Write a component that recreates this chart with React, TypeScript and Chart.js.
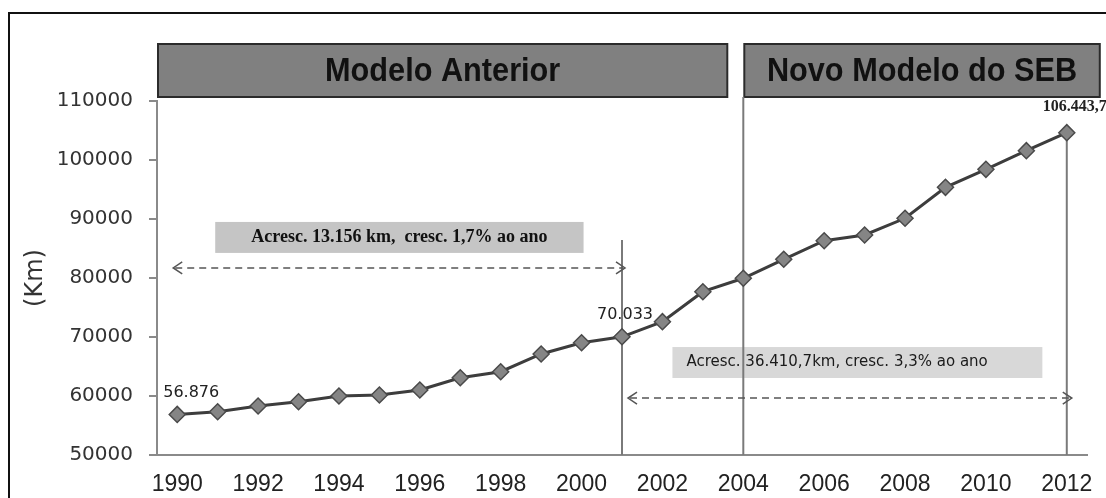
import React, { useEffect, useRef } from "react";
import { Chart, registerables } from "chart.js";

Chart.register(...registerables);

const years = [
  "1990", "1991", "1992", "1993", "1994", "1995", "1996", "1997", "1998", "1999", "2000",
  "2001", "2002", "2003", "2004", "2005", "2006", "2007", "2008", "2009", "2010", "2011", "2012",
];
const lengthKm = [
  56876, 57340, 58300, 59030, 60000, 60170, 61020, 63100, 64120, 67120, 69030,
  70033, 72600, 77680, 79950, 83170, 86320, 87290, 90120, 95370, 98420, 101580, 104630,
];
const yMin = 50000;
const yMax = 110000;
const yStep = 10000;
const yTitle = "(Km)";
const periodLabels = ["Modelo Anterior", "Novo Modelo do SEB"];
const growthNotes = [
  "Acresc. 13.156 km,  cresc. 1,7% ao ano",
  "Acresc. 36.410,7km, cresc. 3,3% ao ano",
];
const pointLabelYears = ["1990", "2001", "2012"];
const pointLabelTexts = ["56.876", "70.033", "106.443,7"];
const dividerYears = ["2001", "2004", "2012"];

const decorPlugin = {
  id: "decor",
  beforeDraw(chart: any) {
    const { ctx, chartArea, scales } = chart;
    const xs = scales.x;
    ctx.save();
    ctx.fillStyle = "#ffffff";
    ctx.fillRect(0, 0, chart.width, chart.height);
    // outer frame
    ctx.strokeStyle = "#111";
    ctx.lineWidth = 2;
    ctx.strokeRect(9, 13, chart.width + 40, chart.height + 40);
    // banners
    const x2004 = xs.getPixelForValue(years.indexOf("2004"));
    const x2012 = xs.getPixelForValue(years.indexOf("2012"));
    const top = chartArea.top - 57;
    const bottom = chartArea.top - 4;
    const boxes = [
      [chartArea.left + 1, x2004 - 16],
      [x2004 + 1, x2012 + 33],
    ];
    boxes.forEach(([l, r], i) => {
      ctx.fillStyle = "#808080";
      ctx.fillRect(l, top, r - l, bottom - top);
      ctx.strokeStyle = "#2b2b2b";
      ctx.lineWidth = 2;
      ctx.strokeRect(l, top, r - l, bottom - top);
      ctx.save();
      ctx.translate((l + r) / 2, (top + bottom) / 2 + 1);
      ctx.scale(0.93, 1);
      ctx.fillStyle = "#111";
      ctx.font = 'bold 33px "Liberation Sans", Arial, sans-serif';
      ctx.textAlign = "center";
      ctx.textBaseline = "middle";
      ctx.fillText(periodLabels[i], 0, 0);
      ctx.restore();
    });
    ctx.restore();
  },
  beforeDatasetsDraw(chart: any) {
    const { ctx, chartArea, scales } = chart;
    const xs = scales.x;
    const ys = scales.y;
    const X = (y: string) => xs.getPixelForValue(years.indexOf(y));
    ctx.save();
    // note box 1
    const b1l = X("1990") + 38, b1r = X("2000") + 2;
    const b1t = ys.getPixelForValue(89500), b1b = ys.getPixelForValue(84250);
    ctx.fillStyle = "#c5c5c5";
    ctx.fillRect(b1l, b1t, b1r - b1l, b1b - b1t);
    ctx.fillStyle = "#111";
    ctx.font = 'bold 18px "Liberation Serif", "Times New Roman", serif';
    ctx.textAlign = "center";
    ctx.textBaseline = "middle";
    ctx.fillText(growthNotes[0], (b1l + b1r) / 2, (b1t + b1b) / 2);
    // note box 2
    const b2l = X("2002") + 10, b2r = X("2011") + 16;
    const b2t = ys.getPixelForValue(68300), b2b = ys.getPixelForValue(63050);
    ctx.fillStyle = "#d8d8d8";
    ctx.fillRect(b2l, b2t, b2r - b2l, b2b - b2t);

    // vertical dividers
    ctx.strokeStyle = "#7a7a7a";
    ctx.lineWidth = 2;
    const tops = [
      ys.getPixelForValue(86450),
      chartArea.top - 4,
      ys.getPixelForValue(lengthKm[years.indexOf("2012")]),
    ];
    dividerYears.forEach((yr, i) => {
      const x = X(yr);
      ctx.beginPath();
      ctx.moveTo(x, tops[i]);
      ctx.lineTo(x, chartArea.bottom);
      ctx.stroke();
    });

    ctx.fillStyle = "#1a1a1a";
    ctx.font = '15px "DejaVu Sans", Verdana, sans-serif';
    ctx.textAlign = "left";
    ctx.fillText(growthNotes[1], b2l + 14, (b2t + b2b) / 2);

    const arrow = (x1: number, x2: number, y: number) => {
      ctx.strokeStyle = "#555";
      ctx.lineWidth = 1.5;
      ctx.setLineDash([7, 5]);
      ctx.beginPath();
      ctx.moveTo(x1 + 2, y);
      ctx.lineTo(x2 - 2, y);
      ctx.stroke();
      ctx.setLineDash([]);
      ctx.beginPath();
      ctx.moveTo(x1 + 9, y - 6);
      ctx.lineTo(x1, y);
      ctx.lineTo(x1 + 9, y + 6);
      ctx.moveTo(x2 - 9, y - 6);
      ctx.lineTo(x2, y);
      ctx.lineTo(x2 - 9, y + 6);
      ctx.stroke();
    };
    arrow(X("1990") - 4, X("2001") + 3, ys.getPixelForValue(81700));
    arrow(X("2001") + 6, X("2012") + 5, ys.getPixelForValue(59650));
    ctx.restore();
  },
  afterDatasetsDraw(chart: any) {
    const { ctx, scales } = chart;
    const xs = scales.x;
    const ys = scales.y;
    ctx.save();
    ctx.textAlign = "center";
    ctx.textBaseline = "middle";
    ctx.fillStyle = "#222";
    const offsets = [
      [14, -22],
      [3, -22],
      [8, -26],
    ];
    pointLabelYears.forEach((yr, i) => {
      const idx = years.indexOf(yr);
      const x = xs.getPixelForValue(idx);
      const y = ys.getPixelForValue(lengthKm[idx]);
      ctx.font =
        i === 2
          ? 'bold 16px "Liberation Serif", "Times New Roman", serif'
          : '16px "DejaVu Sans", Verdana, sans-serif';
      ctx.fillText(pointLabelTexts[i], x + offsets[i][0], y + offsets[i][1]);
    });
    ctx.restore();
  },
};

export default function App() {
  const ref = useRef<HTMLCanvasElement>(null);
  useEffect(() => {
    if (!ref.current) return;
    const chart = new Chart(ref.current, {
      type: "line",
      data: {
        labels: years,
        datasets: [
          {
            data: lengthKm,
            borderColor: "#3d3d3d",
            borderWidth: 3,
            tension: 0,
            pointStyle: "rectRot",
            pointRadius: 8,
            pointBackgroundColor: "#858585",
            pointBorderColor: "#4a4a4a",
            pointBorderWidth: 1.5,
          },
        ],
      },
      options: {
        responsive: false,
        animation: false,
        devicePixelRatio: 1,
        layout: { padding: { top: 101, right: 19, bottom: 0, left: 0 } },
        plugins: { legend: { display: false }, tooltip: { enabled: false } },
        scales: {
          x: {
            offset: true,
            grid: { display: false },
            border: { display: true, color: "#8a8a8a", width: 2 },
            ticks: {
              autoSkip: false,
              maxRotation: 0,
              padding: 8,
              color: "#222",
              font: { family: '"Liberation Sans", Arial, sans-serif', size: 23 },
              callback: (_v: any, i: number) => (i % 2 === 0 ? years[i] : ""),
            },
            afterFit: (s: any) => {
              s.height = 43;
            },
          },
          y: {
            min: yMin,
            max: yMax,
            grid: { drawOnChartArea: false, drawTicks: true, tickLength: 8, color: "#8a8a8a", lineWidth: 2 },
            border: { display: true, color: "#8a8a8a", width: 2 },
            ticks: {
              stepSize: yStep,
              padding: 16,
              color: "#333",
              font: { family: '"DejaVu Sans", Verdana, sans-serif', size: 20 },
              callback: (v: any) => String(v),
            },
            title: {
              display: true,
              text: yTitle,
              color: "#333",
              padding: { top: 21, bottom: 0 },
              font: { family: '"DejaVu Sans", Verdana, sans-serif', size: 24 },
            },
            afterFit: (s: any) => {
              s.width = 157;
            },
          },
        },
      },
      plugins: [decorPlugin],
    });
    return () => chart.destroy();
  }, []);
  return (
    <div style={{ position: "absolute", left: 0, top: 0, width: 1106, height: 498 }}>
      <canvas ref={ref} width={1106} height={498} />
    </div>
  );
}
